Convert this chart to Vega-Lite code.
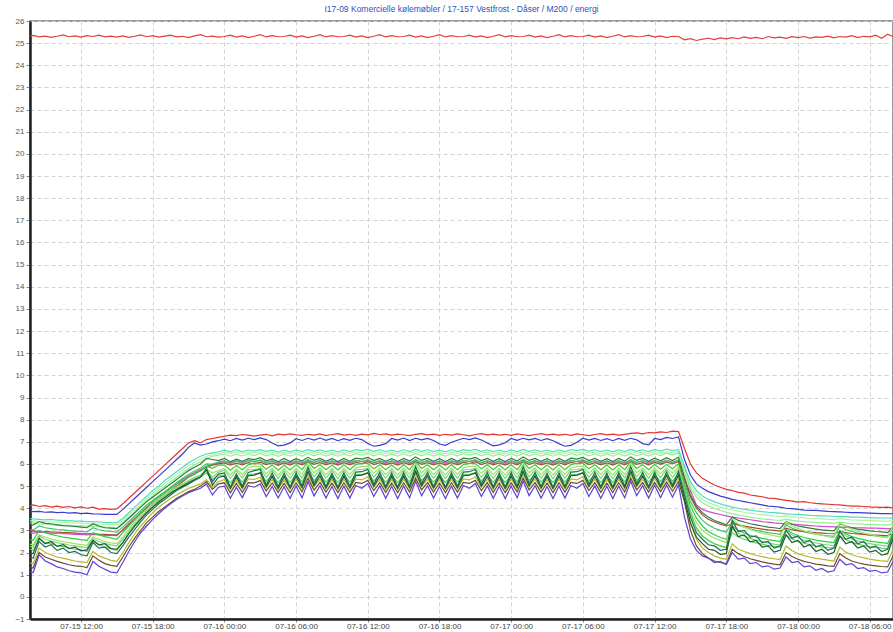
{
  "$schema": "https://vega.github.io/schema/vega-lite/v6.json",
  "autosize": "none",
  "width": 863,
  "height": 598,
  "padding": {"left": 30, "top": 21, "right": 0, "bottom": 13},
  "background": "white",
  "title": {
    "text": "I17-09 Komercielle kølemøbler / 17-157 Vestfrost - Dåser / M200 / energi",
    "font": "Liberation Sans",
    "fontSize": 8.5,
    "fontWeight": "normal",
    "color": "#2f4fbf",
    "offset": 4
  },
  "config": {
    "view": {"stroke": "#777", "strokeWidth": 1.5}
  },
  "data": {
    "values": [
      {"t":"2017-07-15T07:30","top":25.3,"red":4.1,"blue":3.88,"aqua":3.55,"sage":3.42,"mint":3.3,"jade":3.05,"forest":3.2,"brown":2.95,"green":2.6,"lime":2.4,"fern":2.3,"teal":1.8,"pine":2.0,"grass":2.2,"olive":1.55,"umber":1.35,"violet":1.15,"magenta":2.9},
      {"t":"2017-07-15T08:00","top":25.35,"red":4.15,"blue":3.85,"aqua":3.52,"sage":3.44,"mint":3.35,"jade":3.02,"forest":3.25,"brown":2.98,"green":2.55,"lime":2.35,"fern":2.25,"teal":1.75,"pine":1.95,"grass":2.1,"olive":1.5,"umber":1.3,"violet":1.1,"magenta":2.88},
      {"t":"2017-07-15T08:30","top":25.28,"red":4.08,"blue":3.86,"aqua":3.5,"sage":3.4,"mint":3.28,"jade":3.2,"forest":3.4,"brown":2.96,"green":3.0,"lime":2.8,"fern":2.75,"teal":2.5,"pine":2.65,"grass":2.6,"olive":2.2,"umber":2.0,"violet":1.9,"magenta":2.92},
      {"t":"2017-07-15T09:00","top":25.32,"red":4.12,"blue":3.82,"aqua":3.48,"sage":3.4,"mint":3.3,"jade":3.12,"forest":3.32,"brown":2.95,"green":2.9,"lime":2.7,"fern":2.6,"teal":2.25,"pine":2.4,"grass":2.45,"olive":2.0,"umber":1.8,"violet":1.62,"magenta":2.9},
      {"t":"2017-07-15T09:30","top":25.26,"red":4.05,"blue":3.84,"aqua":3.5,"sage":3.38,"mint":3.25,"jade":3.08,"forest":3.3,"brown":2.93,"green":2.82,"lime":2.62,"fern":2.52,"teal":2.35,"pine":2.5,"grass":2.4,"olive":1.9,"umber":1.7,"violet":1.5,"magenta":2.88},
      {"t":"2017-07-15T10:00","top":25.31,"red":4.1,"blue":3.8,"aqua":3.46,"sage":3.37,"mint":3.26,"jade":3.04,"forest":3.25,"brown":2.92,"green":2.76,"lime":2.55,"fern":2.45,"teal":2.1,"pine":2.28,"grass":2.3,"olive":1.8,"umber":1.6,"violet":1.35,"magenta":2.86},
      {"t":"2017-07-15T10:30","top":25.37,"red":4.04,"blue":3.82,"aqua":3.45,"sage":3.36,"mint":3.22,"jade":3.02,"forest":3.22,"brown":2.9,"green":2.7,"lime":2.5,"fern":2.4,"teal":2.2,"pine":2.36,"grass":2.28,"olive":1.75,"umber":1.52,"violet":1.28,"magenta":2.85},
      {"t":"2017-07-15T11:00","top":25.29,"red":4.08,"blue":3.78,"aqua":3.44,"sage":3.35,"mint":3.24,"jade":2.99,"forest":3.2,"brown":2.9,"green":2.66,"lime":2.45,"fern":2.34,"teal":2.0,"pine":2.18,"grass":2.2,"olive":1.68,"umber":1.45,"violet":1.18,"magenta":2.84},
      {"t":"2017-07-15T11:30","top":25.33,"red":4.02,"blue":3.8,"aqua":3.42,"sage":3.33,"mint":3.2,"jade":2.97,"forest":3.18,"brown":2.88,"green":2.62,"lime":2.4,"fern":2.3,"teal":2.05,"pine":2.24,"grass":2.15,"olive":1.62,"umber":1.4,"violet":1.12,"magenta":2.82},
      {"t":"2017-07-15T12:00","top":25.27,"red":4.06,"blue":3.76,"aqua":3.42,"sage":3.33,"mint":3.22,"jade":2.95,"forest":3.15,"brown":2.86,"green":2.58,"lime":2.36,"fern":2.26,"teal":1.9,"pine":2.08,"grass":2.12,"olive":1.58,"umber":1.38,"violet":1.08,"magenta":2.82},
      {"t":"2017-07-15T12:30","top":25.34,"red":4.0,"blue":3.78,"aqua":3.4,"sage":3.31,"mint":3.18,"jade":2.93,"forest":3.12,"brown":2.85,"green":2.55,"lime":2.32,"fern":2.22,"teal":1.85,"pine":2.12,"grass":2.05,"olive":1.55,"umber":1.32,"violet":1.0,"magenta":2.8},
      {"t":"2017-07-15T13:00","top":25.3,"red":4.05,"blue":3.75,"aqua":3.4,"sage":3.3,"mint":3.2,"jade":3.12,"forest":3.3,"brown":2.85,"green":2.9,"lime":2.7,"fern":2.62,"teal":2.45,"pine":2.55,"grass":2.5,"olive":2.05,"umber":1.85,"violet":1.6,"magenta":2.82},
      {"t":"2017-07-15T13:30","top":25.36,"red":3.96,"blue":3.74,"aqua":3.38,"sage":3.28,"mint":3.16,"jade":3.03,"forest":3.2,"brown":2.83,"green":2.8,"lime":2.6,"fern":2.5,"teal":2.2,"pine":2.35,"grass":2.35,"olive":1.85,"umber":1.65,"violet":1.38,"magenta":2.8},
      {"t":"2017-07-15T14:00","top":25.28,"red":3.98,"blue":3.72,"aqua":3.36,"sage":3.27,"mint":3.15,"jade":2.98,"forest":3.12,"brown":2.82,"green":2.72,"lime":2.5,"fern":2.42,"teal":2.25,"pine":2.4,"grass":2.25,"olive":1.75,"umber":1.5,"violet":1.25,"magenta":2.78},
      {"t":"2017-07-15T14:30","top":25.32,"red":3.95,"blue":3.73,"aqua":3.35,"sage":3.26,"mint":3.14,"jade":2.95,"forest":3.1,"brown":2.8,"green":2.66,"lime":2.44,"fern":2.35,"teal":2.0,"pine":2.18,"grass":2.18,"olive":1.65,"umber":1.42,"violet":1.12,"magenta":2.78},
      {"t":"2017-07-15T15:00","top":25.27,"red":3.97,"blue":3.72,"aqua":3.34,"sage":3.25,"mint":3.12,"jade":2.92,"forest":3.08,"brown":2.8,"green":2.6,"lime":2.4,"fern":2.3,"teal":1.95,"pine":2.15,"grass":2.1,"olive":1.6,"umber":1.38,"violet":1.08,"magenta":2.76},
      {"t":"2017-07-15T15:30","top":25.33,"red":4.2,"blue":3.95,"aqua":3.55,"sage":3.45,"mint":3.35,"jade":3.15,"forest":3.3,"brown":3.0,"green":2.9,"lime":2.7,"fern":2.6,"teal":2.3,"pine":2.45,"grass":2.45,"olive":2.0,"umber":1.8,"violet":1.55,"magenta":3.05},
      {"t":"2017-07-15T16:00","top":25.26,"red":4.45,"blue":4.2,"aqua":3.8,"sage":3.7,"mint":3.6,"jade":3.4,"forest":3.55,"brown":3.25,"green":3.2,"lime":3.05,"fern":2.95,"teal":2.7,"pine":2.85,"grass":2.85,"olive":2.45,"umber":2.25,"violet":2.05,"magenta":3.3},
      {"t":"2017-07-15T16:30","top":25.31,"red":4.7,"blue":4.45,"aqua":4.05,"sage":3.95,"mint":3.85,"jade":3.65,"forest":3.8,"brown":3.5,"green":3.5,"lime":3.4,"fern":3.3,"teal":3.05,"pine":3.2,"grass":3.2,"olive":2.85,"umber":2.65,"violet":2.5,"magenta":3.55},
      {"t":"2017-07-15T17:00","top":25.37,"red":4.95,"blue":4.7,"aqua":4.3,"sage":4.2,"mint":4.1,"jade":3.9,"forest":4.05,"brown":3.75,"green":3.8,"lime":3.7,"fern":3.6,"teal":3.4,"pine":3.52,"grass":3.5,"olive":3.2,"umber":3.0,"violet":2.9,"magenta":3.8},
      {"t":"2017-07-15T17:30","top":25.29,"red":5.2,"blue":4.95,"aqua":4.55,"sage":4.45,"mint":4.35,"jade":4.15,"forest":4.3,"brown":4.0,"green":4.05,"lime":3.95,"fern":3.88,"teal":3.7,"pine":3.8,"grass":3.8,"olive":3.5,"umber":3.35,"violet":3.2,"magenta":4.05},
      {"t":"2017-07-15T18:00","top":25.34,"red":5.45,"blue":5.2,"aqua":4.8,"sage":4.68,"mint":4.55,"jade":4.35,"forest":4.5,"brown":4.2,"green":4.3,"lime":4.2,"fern":4.12,"teal":3.95,"pine":4.05,"grass":4.05,"olive":3.8,"umber":3.6,"violet":3.5,"magenta":4.3},
      {"t":"2017-07-15T18:30","top":25.27,"red":5.7,"blue":5.45,"aqua":5.0,"sage":4.9,"mint":4.8,"jade":4.55,"forest":4.7,"brown":4.4,"green":4.5,"lime":4.4,"fern":4.35,"teal":4.2,"pine":4.28,"grass":4.3,"olive":4.05,"umber":3.85,"violet":3.75,"magenta":4.5},
      {"t":"2017-07-15T19:00","top":25.32,"red":5.95,"blue":5.7,"aqua":5.25,"sage":5.12,"mint":5.0,"jade":4.75,"forest":4.9,"brown":4.6,"green":4.7,"lime":4.6,"fern":4.55,"teal":4.4,"pine":4.48,"grass":4.5,"olive":4.25,"umber":4.05,"violet":4.0,"magenta":4.7},
      {"t":"2017-07-15T19:30","top":25.36,"red":6.2,"blue":5.95,"aqua":5.45,"sage":5.33,"mint":5.2,"jade":4.95,"forest":5.1,"brown":4.8,"green":4.9,"lime":4.8,"fern":4.75,"teal":4.6,"pine":4.68,"grass":4.7,"olive":4.45,"umber":4.25,"violet":4.2,"magenta":4.9},
      {"t":"2017-07-15T20:00","top":25.28,"red":6.45,"blue":6.2,"aqua":5.65,"sage":5.53,"mint":5.4,"jade":5.15,"forest":5.3,"brown":5.0,"green":5.1,"lime":4.95,"fern":4.92,"teal":4.8,"pine":4.85,"grass":4.85,"olive":4.6,"umber":4.45,"violet":4.4,"magenta":5.1},
      {"t":"2017-07-15T20:30","top":25.31,"red":6.7,"blue":6.45,"aqua":5.85,"sage":5.73,"mint":5.6,"jade":5.35,"forest":5.5,"brown":5.2,"green":5.25,"lime":5.1,"fern":5.08,"teal":4.95,"pine":5.0,"grass":5.0,"olive":4.75,"umber":4.6,"violet":4.55,"magenta":5.3},
      {"t":"2017-07-15T21:00","top":25.25,"red":6.95,"blue":6.75,"aqua":6.05,"sage":5.92,"mint":5.8,"jade":5.52,"forest":5.7,"brown":5.4,"green":5.4,"lime":5.25,"fern":5.22,"teal":5.1,"pine":5.15,"grass":5.15,"olive":4.9,"umber":4.75,"violet":4.7,"magenta":5.45},
      {"t":"2017-07-15T21:30","top":25.33,"red":7.05,"blue":6.95,"aqua":6.2,"sage":6.08,"mint":5.95,"jade":5.68,"forest":5.85,"brown":5.55,"green":5.55,"lime":5.4,"fern":5.38,"teal":5.25,"pine":5.3,"grass":5.3,"olive":5.0,"umber":4.85,"violet":4.8,"magenta":5.6},
      {"t":"2017-07-15T22:00","top":25.38,"red":6.95,"blue":6.85,"aqua":6.35,"sage":6.22,"mint":6.1,"jade":5.82,"forest":6.0,"brown":5.7,"green":5.7,"lime":5.5,"fern":5.48,"teal":5.4,"pine":5.42,"grass":5.4,"olive":5.1,"umber":5.0,"violet":4.9,"magenta":5.75},
      {"t":"2017-07-15T22:30","top":25.29,"red":7.1,"blue":6.9,"aqua":6.45,"sage":6.35,"mint":6.25,"jade":6.0,"forest":6.25,"brown":5.85,"green":5.9,"lime":5.75,"fern":5.7,"teal":5.8,"pine":5.75,"grass":5.6,"olive":5.3,"umber":5.2,"violet":5.1,"magenta":5.9},
      {"t":"2017-07-15T23:00","top":25.32,"red":7.15,"blue":7.0,"aqua":6.5,"sage":6.42,"mint":6.35,"jade":5.98,"forest":6.2,"brown":5.95,"green":5.8,"lime":5.6,"fern":5.4,"teal":5.2,"pine":5.05,"grass":5.3,"olive":4.95,"umber":4.85,"violet":4.6,"magenta":6.0},
      {"t":"2017-07-15T23:30","top":25.27,"red":7.2,"blue":7.05,"aqua":6.55,"sage":6.48,"mint":6.4,"jade":6.08,"forest":6.15,"brown":6.0,"green":5.95,"lime":5.7,"fern":5.62,"teal":5.55,"pine":5.4,"grass":5.5,"olive":5.2,"umber":5.1,"violet":4.95,"magenta":6.05},
      {"t":"2017-07-16T00:00","top":25.3,"red":7.25,"blue":7.12,"aqua":6.62,"sage":6.52,"mint":6.45,"jade":6.15,"forest":6.25,"brown":6.05,"green":5.95,"lime":5.8,"fern":5.72,"teal":5.6,"pine":5.45,"grass":5.5,"olive":5.3,"umber":5.15,"violet":5.0,"magenta":6.12},
      {"t":"2017-07-16T00:30","top":25.36,"red":7.3,"blue":7.05,"aqua":6.55,"sage":6.47,"mint":6.35,"jade":6.0,"forest":6.1,"brown":5.95,"green":5.72,"lime":5.5,"fern":5.35,"teal":4.95,"pine":4.9,"grass":5.15,"olive":4.85,"umber":4.7,"violet":4.45,"magenta":6.05},
      {"t":"2017-07-16T01:00","top":25.27,"red":7.28,"blue":7.15,"aqua":6.64,"sage":6.53,"mint":6.44,"jade":6.14,"forest":6.22,"brown":6.04,"green":5.93,"lime":5.78,"fern":5.7,"teal":5.55,"pine":5.42,"grass":5.48,"olive":5.28,"umber":5.12,"violet":4.95,"magenta":6.14},
      {"t":"2017-07-16T01:30","top":25.33,"red":7.33,"blue":7.08,"aqua":6.56,"sage":6.48,"mint":6.36,"jade":6.01,"forest":6.12,"brown":5.96,"green":5.74,"lime":5.52,"fern":5.37,"teal":5.0,"pine":4.93,"grass":5.18,"olive":4.88,"umber":4.72,"violet":4.48,"magenta":6.06},
      {"t":"2017-07-16T02:00","top":25.25,"red":7.3,"blue":7.16,"aqua":6.63,"sage":6.52,"mint":6.46,"jade":6.16,"forest":6.24,"brown":6.06,"green":5.96,"lime":5.82,"fern":5.74,"teal":5.62,"pine":5.47,"grass":5.52,"olive":5.32,"umber":5.16,"violet":5.02,"magenta":6.15},
      {"t":"2017-07-16T02:30","top":25.31,"red":7.26,"blue":7.1,"aqua":6.58,"sage":6.5,"mint":6.38,"jade":6.12,"forest":6.2,"brown":6.0,"green":6.05,"lime":5.9,"fern":5.75,"teal":5.7,"pine":5.5,"grass":5.55,"olive":5.3,"umber":5.15,"violet":4.95,"magenta":6.1},
      {"t":"2017-07-16T03:00","top":25.38,"red":7.3,"blue":7.18,"aqua":6.65,"sage":6.54,"mint":6.47,"jade":6.18,"forest":6.28,"brown":6.08,"green":6.0,"lime":5.88,"fern":5.8,"teal":5.75,"pine":5.6,"grass":5.6,"olive":5.4,"umber":5.25,"violet":5.1,"magenta":6.16},
      {"t":"2017-07-16T03:30","top":25.28,"red":7.34,"blue":7.1,"aqua":6.57,"sage":6.48,"mint":6.37,"jade":6.03,"forest":6.14,"brown":5.97,"green":5.76,"lime":5.56,"fern":5.4,"teal":5.05,"pine":4.98,"grass":5.22,"olive":4.92,"umber":4.78,"violet":4.52,"magenta":6.07},
      {"t":"2017-07-16T04:00","top":25.34,"red":7.27,"blue":6.95,"aqua":6.62,"sage":6.52,"mint":6.44,"jade":6.15,"forest":6.23,"brown":6.05,"green":5.95,"lime":5.8,"fern":5.72,"teal":5.6,"pine":5.44,"grass":5.5,"olive":5.3,"umber":5.14,"violet":4.98,"magenta":6.13},
      {"t":"2017-07-16T04:30","top":25.29,"red":7.35,"blue":6.82,"aqua":6.54,"sage":6.46,"mint":6.34,"jade":5.99,"forest":6.1,"brown":5.94,"green":5.72,"lime":5.5,"fern":5.34,"teal":4.98,"pine":4.9,"grass":5.16,"olive":4.86,"umber":4.72,"violet":4.46,"magenta":6.04},
      {"t":"2017-07-16T05:00","top":25.3,"red":7.31,"blue":6.85,"aqua":6.63,"sage":6.52,"mint":6.45,"jade":6.14,"forest":6.25,"brown":6.05,"green":5.94,"lime":5.8,"fern":5.71,"teal":5.58,"pine":5.43,"grass":5.5,"olive":5.28,"umber":5.13,"violet":4.97,"magenta":6.12},
      {"t":"2017-07-16T05:30","top":25.36,"red":7.36,"blue":6.95,"aqua":6.55,"sage":6.47,"mint":6.35,"jade":6.0,"forest":6.11,"brown":5.95,"green":5.73,"lime":5.52,"fern":5.35,"teal":4.96,"pine":4.91,"grass":5.17,"olive":4.87,"umber":4.71,"violet":4.44,"magenta":6.05},
      {"t":"2017-07-16T06:00","top":25.27,"red":7.32,"blue":7.14,"aqua":6.64,"sage":6.53,"mint":6.46,"jade":6.15,"forest":6.24,"brown":6.06,"green":5.96,"lime":5.81,"fern":5.72,"teal":5.6,"pine":5.45,"grass":5.51,"olive":5.31,"umber":5.15,"violet":5.0,"magenta":6.14},
      {"t":"2017-07-16T06:30","top":25.33,"red":7.29,"blue":7.06,"aqua":6.56,"sage":6.48,"mint":6.36,"jade":6.01,"forest":6.13,"brown":5.96,"green":5.74,"lime":5.53,"fern":5.37,"teal":5.0,"pine":4.94,"grass":5.19,"olive":4.89,"umber":4.74,"violet":4.47,"magenta":6.06},
      {"t":"2017-07-16T07:00","top":25.25,"red":7.34,"blue":7.16,"aqua":6.65,"sage":6.54,"mint":6.47,"jade":6.2,"forest":6.3,"brown":6.1,"green":6.1,"lime":5.98,"fern":5.85,"teal":5.85,"pine":5.65,"grass":5.68,"olive":5.5,"umber":5.35,"violet":5.2,"magenta":6.16},
      {"t":"2017-07-16T07:30","top":25.31,"red":7.3,"blue":7.08,"aqua":6.57,"sage":6.49,"mint":6.37,"jade":6.05,"forest":6.16,"brown":5.98,"green":5.8,"lime":5.6,"fern":5.42,"teal":5.12,"pine":5.02,"grass":5.25,"olive":4.98,"umber":4.82,"violet":4.56,"magenta":6.07},
      {"t":"2017-07-16T08:00","top":25.38,"red":7.36,"blue":7.17,"aqua":6.64,"sage":6.53,"mint":6.46,"jade":6.16,"forest":6.25,"brown":6.06,"green":5.96,"lime":5.82,"fern":5.73,"teal":5.62,"pine":5.46,"grass":5.52,"olive":5.32,"umber":5.17,"violet":5.02,"magenta":6.15},
      {"t":"2017-07-16T08:30","top":25.28,"red":7.28,"blue":7.07,"aqua":6.56,"sage":6.47,"mint":6.36,"jade":6.0,"forest":6.12,"brown":5.96,"green":5.74,"lime":5.52,"fern":5.36,"teal":4.98,"pine":4.92,"grass":5.18,"olive":4.88,"umber":4.73,"violet":4.46,"magenta":6.06},
      {"t":"2017-07-16T09:00","top":25.34,"red":7.33,"blue":7.15,"aqua":6.63,"sage":6.52,"mint":6.45,"jade":6.15,"forest":6.24,"brown":6.05,"green":5.95,"lime":5.8,"fern":5.71,"teal":5.58,"pine":5.44,"grass":5.5,"olive":5.3,"umber":5.14,"violet":4.98,"magenta":6.13},
      {"t":"2017-07-16T09:30","top":25.29,"red":7.37,"blue":7.05,"aqua":6.55,"sage":6.46,"mint":6.35,"jade":5.99,"forest":6.11,"brown":5.95,"green":5.73,"lime":5.51,"fern":5.34,"teal":4.95,"pine":4.9,"grass":5.16,"olive":4.86,"umber":4.71,"violet":4.44,"magenta":6.05},
      {"t":"2017-07-16T10:00","top":25.3,"red":7.3,"blue":7.14,"aqua":6.64,"sage":6.53,"mint":6.46,"jade":6.15,"forest":6.25,"brown":6.06,"green":5.96,"lime":5.81,"fern":5.72,"teal":5.6,"pine":5.45,"grass":5.51,"olive":5.31,"umber":5.15,"violet":5.0,"magenta":6.14},
      {"t":"2017-07-16T10:30","top":25.36,"red":7.34,"blue":7.07,"aqua":6.56,"sage":6.48,"mint":6.36,"jade":6.01,"forest":6.12,"brown":5.96,"green":5.74,"lime":5.53,"fern":5.36,"teal":4.99,"pine":4.93,"grass":5.18,"olive":4.88,"umber":4.73,"violet":4.46,"magenta":6.06},
      {"t":"2017-07-16T11:00","top":25.27,"red":7.29,"blue":7.16,"aqua":6.65,"sage":6.54,"mint":6.47,"jade":6.16,"forest":6.26,"brown":6.07,"green":5.97,"lime":5.83,"fern":5.74,"teal":5.63,"pine":5.47,"grass":5.53,"olive":5.33,"umber":5.17,"violet":5.03,"magenta":6.15},
      {"t":"2017-07-16T11:30","top":25.33,"red":7.35,"blue":7.1,"aqua":6.6,"sage":6.5,"mint":6.4,"jade":6.12,"forest":6.22,"brown":6.02,"green":6.02,"lime":5.88,"fern":5.75,"teal":5.65,"pine":5.5,"grass":5.52,"olive":5.28,"umber":5.12,"violet":4.9,"magenta":6.1},
      {"t":"2017-07-16T12:00","top":25.25,"red":7.31,"blue":6.92,"aqua":6.66,"sage":6.55,"mint":6.48,"jade":6.19,"forest":6.3,"brown":6.1,"green":6.02,"lime":5.9,"fern":5.8,"teal":5.75,"pine":5.6,"grass":5.6,"olive":5.42,"umber":5.26,"violet":5.12,"magenta":6.16},
      {"t":"2017-07-16T12:30","top":25.31,"red":7.38,"blue":6.8,"aqua":6.57,"sage":6.49,"mint":6.37,"jade":6.04,"forest":6.15,"brown":5.97,"green":5.78,"lime":5.58,"fern":5.4,"teal":5.08,"pine":5.0,"grass":5.23,"olive":4.95,"umber":4.8,"violet":4.53,"magenta":6.07},
      {"t":"2017-07-16T13:00","top":25.38,"red":7.33,"blue":6.84,"aqua":6.64,"sage":6.53,"mint":6.46,"jade":6.15,"forest":6.25,"brown":6.06,"green":5.96,"lime":5.82,"fern":5.72,"teal":5.62,"pine":5.45,"grass":5.52,"olive":5.32,"umber":5.16,"violet":5.01,"magenta":6.14},
      {"t":"2017-07-16T13:30","top":25.28,"red":7.36,"blue":6.92,"aqua":6.56,"sage":6.47,"mint":6.36,"jade":6.0,"forest":6.12,"brown":5.96,"green":5.74,"lime":5.52,"fern":5.35,"teal":4.97,"pine":4.92,"grass":5.17,"olive":4.87,"umber":4.72,"violet":4.45,"magenta":6.06},
      {"t":"2017-07-16T14:00","top":25.34,"red":7.3,"blue":7.15,"aqua":6.63,"sage":6.52,"mint":6.45,"jade":6.15,"forest":6.24,"brown":6.05,"green":5.95,"lime":5.8,"fern":5.71,"teal":5.59,"pine":5.44,"grass":5.5,"olive":5.3,"umber":5.14,"violet":4.99,"magenta":6.13},
      {"t":"2017-07-16T14:30","top":25.29,"red":7.35,"blue":7.08,"aqua":6.55,"sage":6.46,"mint":6.35,"jade":5.99,"forest":6.11,"brown":5.95,"green":5.73,"lime":5.51,"fern":5.34,"teal":4.96,"pine":4.9,"grass":5.16,"olive":4.86,"umber":4.71,"violet":4.44,"magenta":6.05},
      {"t":"2017-07-16T15:00","top":25.3,"red":7.32,"blue":7.17,"aqua":6.64,"sage":6.53,"mint":6.46,"jade":6.15,"forest":6.25,"brown":6.06,"green":5.96,"lime":5.81,"fern":5.72,"teal":5.61,"pine":5.45,"grass":5.51,"olive":5.31,"umber":5.15,"violet":5.0,"magenta":6.14},
      {"t":"2017-07-16T15:30","top":25.36,"red":7.28,"blue":7.06,"aqua":6.56,"sage":6.48,"mint":6.36,"jade":6.01,"forest":6.13,"brown":5.96,"green":5.74,"lime":5.53,"fern":5.37,"teal":5.0,"pine":4.94,"grass":5.19,"olive":4.89,"umber":4.74,"violet":4.47,"magenta":6.06},
      {"t":"2017-07-16T16:00","top":25.27,"red":7.34,"blue":7.16,"aqua":6.66,"sage":6.55,"mint":6.48,"jade":6.2,"forest":6.32,"brown":6.1,"green":6.1,"lime":6.0,"fern":5.86,"teal":5.88,"pine":5.66,"grass":5.7,"olive":5.52,"umber":5.36,"violet":5.22,"magenta":6.16},
      {"t":"2017-07-16T16:30","top":25.33,"red":7.37,"blue":7.09,"aqua":6.57,"sage":6.49,"mint":6.37,"jade":6.05,"forest":6.16,"brown":5.98,"green":5.8,"lime":5.6,"fern":5.42,"teal":5.12,"pine":5.02,"grass":5.26,"olive":4.98,"umber":4.83,"violet":4.57,"magenta":6.07},
      {"t":"2017-07-16T17:00","top":25.25,"red":7.31,"blue":7.15,"aqua":6.64,"sage":6.53,"mint":6.46,"jade":6.16,"forest":6.25,"brown":6.06,"green":5.96,"lime":5.82,"fern":5.73,"teal":5.62,"pine":5.46,"grass":5.52,"olive":5.32,"umber":5.16,"violet":5.02,"magenta":6.14},
      {"t":"2017-07-16T17:30","top":25.31,"red":7.35,"blue":7.06,"aqua":6.56,"sage":6.47,"mint":6.36,"jade":6.0,"forest":6.12,"brown":5.96,"green":5.74,"lime":5.52,"fern":5.36,"teal":4.98,"pine":4.92,"grass":5.18,"olive":4.88,"umber":4.73,"violet":4.46,"magenta":6.06},
      {"t":"2017-07-16T18:00","top":25.38,"red":7.29,"blue":6.9,"aqua":6.63,"sage":6.52,"mint":6.45,"jade":6.15,"forest":6.24,"brown":6.05,"green":5.95,"lime":5.8,"fern":5.71,"teal":5.58,"pine":5.44,"grass":5.5,"olive":5.3,"umber":5.14,"violet":4.98,"magenta":6.13},
      {"t":"2017-07-16T18:30","top":25.28,"red":7.34,"blue":6.84,"aqua":6.55,"sage":6.46,"mint":6.35,"jade":5.99,"forest":6.11,"brown":5.95,"green":5.73,"lime":5.51,"fern":5.34,"teal":4.95,"pine":4.9,"grass":5.16,"olive":4.86,"umber":4.71,"violet":4.44,"magenta":6.05},
      {"t":"2017-07-16T19:00","top":25.34,"red":7.3,"blue":6.98,"aqua":6.64,"sage":6.53,"mint":6.46,"jade":6.15,"forest":6.25,"brown":6.06,"green":5.96,"lime":5.81,"fern":5.72,"teal":5.6,"pine":5.45,"grass":5.51,"olive":5.31,"umber":5.15,"violet":5.0,"magenta":6.14},
      {"t":"2017-07-16T19:30","top":25.29,"red":7.36,"blue":7.07,"aqua":6.56,"sage":6.48,"mint":6.36,"jade":6.01,"forest":6.12,"brown":5.96,"green":5.74,"lime":5.53,"fern":5.36,"teal":4.99,"pine":4.93,"grass":5.18,"olive":4.88,"umber":4.73,"violet":4.46,"magenta":6.06},
      {"t":"2017-07-16T20:00","top":25.3,"red":7.32,"blue":7.16,"aqua":6.65,"sage":6.54,"mint":6.47,"jade":6.16,"forest":6.26,"brown":6.07,"green":5.97,"lime":5.83,"fern":5.74,"teal":5.63,"pine":5.47,"grass":5.53,"olive":5.33,"umber":5.17,"violet":5.03,"magenta":6.15},
      {"t":"2017-07-16T20:30","top":25.36,"red":7.27,"blue":7.1,"aqua":6.6,"sage":6.5,"mint":6.4,"jade":6.12,"forest":6.22,"brown":6.02,"green":6.02,"lime":5.88,"fern":5.75,"teal":5.65,"pine":5.5,"grass":5.52,"olive":5.28,"umber":5.12,"violet":4.9,"magenta":6.1},
      {"t":"2017-07-16T21:00","top":25.27,"red":7.33,"blue":7.18,"aqua":6.66,"sage":6.55,"mint":6.48,"jade":6.19,"forest":6.3,"brown":6.1,"green":6.02,"lime":5.9,"fern":5.8,"teal":5.75,"pine":5.6,"grass":5.6,"olive":5.42,"umber":5.26,"violet":5.12,"magenta":6.16},
      {"t":"2017-07-16T21:30","top":25.33,"red":7.37,"blue":7.08,"aqua":6.57,"sage":6.49,"mint":6.37,"jade":6.04,"forest":6.15,"brown":5.97,"green":5.78,"lime":5.58,"fern":5.4,"teal":5.08,"pine":5.0,"grass":5.23,"olive":4.95,"umber":4.8,"violet":4.53,"magenta":6.07},
      {"t":"2017-07-16T22:00","top":25.25,"red":7.31,"blue":6.95,"aqua":6.64,"sage":6.53,"mint":6.46,"jade":6.15,"forest":6.25,"brown":6.06,"green":5.96,"lime":5.82,"fern":5.72,"teal":5.62,"pine":5.45,"grass":5.52,"olive":5.32,"umber":5.16,"violet":5.01,"magenta":6.14},
      {"t":"2017-07-16T22:30","top":25.31,"red":7.35,"blue":6.82,"aqua":6.56,"sage":6.47,"mint":6.36,"jade":6.0,"forest":6.12,"brown":5.96,"green":5.74,"lime":5.52,"fern":5.35,"teal":4.97,"pine":4.92,"grass":5.17,"olive":4.87,"umber":4.72,"violet":4.45,"magenta":6.06},
      {"t":"2017-07-16T23:00","top":25.38,"red":7.3,"blue":6.86,"aqua":6.63,"sage":6.52,"mint":6.45,"jade":6.15,"forest":6.24,"brown":6.05,"green":5.95,"lime":5.8,"fern":5.71,"teal":5.59,"pine":5.44,"grass":5.5,"olive":5.3,"umber":5.14,"violet":4.99,"magenta":6.13},
      {"t":"2017-07-16T23:30","top":25.28,"red":7.34,"blue":6.96,"aqua":6.55,"sage":6.46,"mint":6.35,"jade":5.99,"forest":6.11,"brown":5.95,"green":5.73,"lime":5.51,"fern":5.34,"teal":4.96,"pine":4.9,"grass":5.16,"olive":4.86,"umber":4.71,"violet":4.44,"magenta":6.05},
      {"t":"2017-07-17T00:00","top":25.34,"red":7.29,"blue":7.15,"aqua":6.64,"sage":6.53,"mint":6.46,"jade":6.15,"forest":6.25,"brown":6.06,"green":5.96,"lime":5.81,"fern":5.72,"teal":5.61,"pine":5.45,"grass":5.51,"olive":5.31,"umber":5.15,"violet":5.0,"magenta":6.14},
      {"t":"2017-07-17T00:30","top":25.29,"red":7.36,"blue":7.07,"aqua":6.56,"sage":6.48,"mint":6.36,"jade":6.01,"forest":6.13,"brown":5.96,"green":5.74,"lime":5.53,"fern":5.37,"teal":5.0,"pine":4.94,"grass":5.19,"olive":4.89,"umber":4.74,"violet":4.47,"magenta":6.06},
      {"t":"2017-07-17T01:00","top":25.3,"red":7.32,"blue":7.16,"aqua":6.66,"sage":6.55,"mint":6.48,"jade":6.2,"forest":6.32,"brown":6.1,"green":6.1,"lime":6.0,"fern":5.86,"teal":5.88,"pine":5.66,"grass":5.7,"olive":5.52,"umber":5.36,"violet":5.22,"magenta":6.16},
      {"t":"2017-07-17T01:30","top":25.36,"red":7.28,"blue":7.09,"aqua":6.57,"sage":6.49,"mint":6.37,"jade":6.05,"forest":6.16,"brown":5.98,"green":5.8,"lime":5.6,"fern":5.42,"teal":5.12,"pine":5.02,"grass":5.26,"olive":4.98,"umber":4.83,"violet":4.57,"magenta":6.07},
      {"t":"2017-07-17T02:00","top":25.27,"red":7.33,"blue":7.15,"aqua":6.64,"sage":6.53,"mint":6.46,"jade":6.16,"forest":6.25,"brown":6.06,"green":5.96,"lime":5.82,"fern":5.73,"teal":5.62,"pine":5.46,"grass":5.52,"olive":5.32,"umber":5.16,"violet":5.02,"magenta":6.14},
      {"t":"2017-07-17T02:30","top":25.33,"red":7.37,"blue":7.06,"aqua":6.56,"sage":6.47,"mint":6.36,"jade":6.0,"forest":6.12,"brown":5.96,"green":5.74,"lime":5.52,"fern":5.36,"teal":4.98,"pine":4.92,"grass":5.18,"olive":4.88,"umber":4.73,"violet":4.46,"magenta":6.06},
      {"t":"2017-07-17T03:00","top":25.25,"red":7.31,"blue":7.14,"aqua":6.63,"sage":6.52,"mint":6.45,"jade":6.15,"forest":6.24,"brown":6.05,"green":5.95,"lime":5.8,"fern":5.71,"teal":5.58,"pine":5.44,"grass":5.5,"olive":5.3,"umber":5.14,"violet":4.98,"magenta":6.13},
      {"t":"2017-07-17T03:30","top":25.31,"red":7.35,"blue":7.05,"aqua":6.55,"sage":6.46,"mint":6.35,"jade":5.99,"forest":6.11,"brown":5.95,"green":5.73,"lime":5.51,"fern":5.34,"teal":4.95,"pine":4.9,"grass":5.16,"olive":4.86,"umber":4.71,"violet":4.44,"magenta":6.05},
      {"t":"2017-07-17T04:00","top":25.38,"red":7.3,"blue":6.92,"aqua":6.64,"sage":6.53,"mint":6.46,"jade":6.15,"forest":6.25,"brown":6.06,"green":5.96,"lime":5.81,"fern":5.72,"teal":5.6,"pine":5.45,"grass":5.51,"olive":5.31,"umber":5.15,"violet":5.0,"magenta":6.14},
      {"t":"2017-07-17T04:30","top":25.28,"red":7.34,"blue":6.8,"aqua":6.56,"sage":6.48,"mint":6.36,"jade":6.01,"forest":6.12,"brown":5.96,"green":5.74,"lime":5.53,"fern":5.36,"teal":4.99,"pine":4.93,"grass":5.18,"olive":4.88,"umber":4.73,"violet":4.46,"magenta":6.06},
      {"t":"2017-07-17T05:00","top":25.34,"red":7.29,"blue":6.84,"aqua":6.65,"sage":6.54,"mint":6.47,"jade":6.16,"forest":6.26,"brown":6.07,"green":5.97,"lime":5.83,"fern":5.74,"teal":5.63,"pine":5.47,"grass":5.53,"olive":5.33,"umber":5.17,"violet":5.03,"magenta":6.15},
      {"t":"2017-07-17T05:30","top":25.29,"red":7.36,"blue":6.98,"aqua":6.6,"sage":6.5,"mint":6.4,"jade":6.12,"forest":6.22,"brown":6.02,"green":6.02,"lime":5.88,"fern":5.75,"teal":5.65,"pine":5.5,"grass":5.52,"olive":5.28,"umber":5.12,"violet":4.9,"magenta":6.1},
      {"t":"2017-07-17T06:00","top":25.3,"red":7.32,"blue":7.16,"aqua":6.66,"sage":6.55,"mint":6.48,"jade":6.19,"forest":6.3,"brown":6.1,"green":6.02,"lime":5.9,"fern":5.8,"teal":5.75,"pine":5.6,"grass":5.6,"olive":5.42,"umber":5.26,"violet":5.12,"magenta":6.16},
      {"t":"2017-07-17T06:30","top":25.36,"red":7.28,"blue":7.08,"aqua":6.57,"sage":6.49,"mint":6.37,"jade":6.04,"forest":6.15,"brown":5.97,"green":5.78,"lime":5.58,"fern":5.4,"teal":5.08,"pine":5.0,"grass":5.23,"olive":4.95,"umber":4.8,"violet":4.53,"magenta":6.07},
      {"t":"2017-07-17T07:00","top":25.27,"red":7.33,"blue":7.15,"aqua":6.64,"sage":6.53,"mint":6.46,"jade":6.15,"forest":6.25,"brown":6.06,"green":5.96,"lime":5.82,"fern":5.72,"teal":5.62,"pine":5.45,"grass":5.52,"olive":5.32,"umber":5.16,"violet":5.01,"magenta":6.14},
      {"t":"2017-07-17T07:30","top":25.33,"red":7.37,"blue":7.06,"aqua":6.56,"sage":6.47,"mint":6.36,"jade":6.0,"forest":6.12,"brown":5.96,"green":5.74,"lime":5.52,"fern":5.35,"teal":4.97,"pine":4.92,"grass":5.17,"olive":4.87,"umber":4.72,"violet":4.45,"magenta":6.06},
      {"t":"2017-07-17T08:00","top":25.25,"red":7.31,"blue":7.14,"aqua":6.63,"sage":6.52,"mint":6.45,"jade":6.15,"forest":6.24,"brown":6.05,"green":5.95,"lime":5.8,"fern":5.71,"teal":5.59,"pine":5.44,"grass":5.5,"olive":5.3,"umber":5.14,"violet":4.99,"magenta":6.13},
      {"t":"2017-07-17T08:30","top":25.31,"red":7.35,"blue":7.05,"aqua":6.55,"sage":6.46,"mint":6.35,"jade":5.99,"forest":6.11,"brown":5.95,"green":5.73,"lime":5.51,"fern":5.34,"teal":4.96,"pine":4.9,"grass":5.16,"olive":4.86,"umber":4.71,"violet":4.44,"magenta":6.05},
      {"t":"2017-07-17T09:00","top":25.38,"red":7.3,"blue":7.15,"aqua":6.64,"sage":6.53,"mint":6.46,"jade":6.15,"forest":6.25,"brown":6.06,"green":5.96,"lime":5.81,"fern":5.72,"teal":5.61,"pine":5.45,"grass":5.51,"olive":5.31,"umber":5.15,"violet":5.0,"magenta":6.14},
      {"t":"2017-07-17T09:30","top":25.28,"red":7.34,"blue":7.07,"aqua":6.56,"sage":6.48,"mint":6.36,"jade":6.01,"forest":6.13,"brown":5.96,"green":5.74,"lime":5.53,"fern":5.37,"teal":5.0,"pine":4.94,"grass":5.19,"olive":4.89,"umber":4.74,"violet":4.47,"magenta":6.06},
      {"t":"2017-07-17T10:00","top":25.34,"red":7.38,"blue":7.16,"aqua":6.66,"sage":6.55,"mint":6.48,"jade":6.2,"forest":6.32,"brown":6.1,"green":6.1,"lime":6.0,"fern":5.86,"teal":5.88,"pine":5.66,"grass":5.7,"olive":5.52,"umber":5.36,"violet":5.22,"magenta":6.16},
      {"t":"2017-07-17T10:30","top":25.29,"red":7.4,"blue":7.09,"aqua":6.57,"sage":6.49,"mint":6.37,"jade":6.05,"forest":6.16,"brown":5.98,"green":5.8,"lime":5.6,"fern":5.42,"teal":5.12,"pine":5.02,"grass":5.26,"olive":4.98,"umber":4.83,"violet":4.57,"magenta":6.07},
      {"t":"2017-07-17T11:00","top":25.3,"red":7.36,"blue":6.92,"aqua":6.64,"sage":6.53,"mint":6.46,"jade":6.16,"forest":6.25,"brown":6.06,"green":5.96,"lime":5.82,"fern":5.73,"teal":5.62,"pine":5.46,"grass":5.52,"olive":5.32,"umber":5.16,"violet":5.02,"magenta":6.14},
      {"t":"2017-07-17T11:30","top":25.36,"red":7.42,"blue":6.86,"aqua":6.56,"sage":6.47,"mint":6.36,"jade":6.0,"forest":6.12,"brown":5.96,"green":5.74,"lime":5.52,"fern":5.36,"teal":4.98,"pine":4.92,"grass":5.18,"olive":4.88,"umber":4.73,"violet":4.46,"magenta":6.06},
      {"t":"2017-07-17T12:00","top":25.27,"red":7.4,"blue":7.15,"aqua":6.65,"sage":6.54,"mint":6.47,"jade":6.16,"forest":6.26,"brown":6.07,"green":5.97,"lime":5.83,"fern":5.73,"teal":5.63,"pine":5.47,"grass":5.53,"olive":5.33,"umber":5.17,"violet":5.03,"magenta":6.15},
      {"t":"2017-07-17T12:30","top":25.33,"red":7.45,"blue":7.1,"aqua":6.58,"sage":6.49,"mint":6.38,"jade":6.02,"forest":6.14,"brown":5.98,"green":5.76,"lime":5.55,"fern":5.38,"teal":5.02,"pine":4.95,"grass":5.2,"olive":4.9,"umber":4.75,"violet":4.48,"magenta":6.07},
      {"t":"2017-07-17T13:00","top":25.25,"red":7.42,"blue":7.2,"aqua":6.67,"sage":6.55,"mint":6.49,"jade":6.17,"forest":6.28,"brown":6.08,"green":5.98,"lime":5.84,"fern":5.75,"teal":5.64,"pine":5.48,"grass":5.54,"olive":5.34,"umber":5.18,"violet":5.04,"magenta":6.16},
      {"t":"2017-07-17T13:30","top":25.31,"red":7.48,"blue":7.15,"aqua":6.6,"sage":6.5,"mint":6.4,"jade":6.03,"forest":6.15,"brown":6.0,"green":5.78,"lime":5.58,"fern":5.4,"teal":5.05,"pine":4.97,"grass":5.22,"olive":4.92,"umber":4.77,"violet":4.5,"magenta":6.08},
      {"t":"2017-07-17T14:00","top":25.3,"red":7.46,"blue":7.22,"aqua":6.66,"sage":6.56,"mint":6.5,"jade":6.18,"forest":6.3,"brown":6.1,"green":6.0,"lime":5.86,"fern":5.76,"teal":5.66,"pine":5.5,"grass":5.56,"olive":5.36,"umber":5.2,"violet":5.05,"magenta":6.16},
      {"t":"2017-07-17T14:30","top":25.15,"red":6.7,"blue":6.2,"aqua":5.9,"sage":5.75,"mint":5.6,"jade":5.15,"forest":5.4,"brown":5.3,"green":5.0,"lime":4.8,"fern":4.7,"teal":4.6,"pine":4.4,"grass":4.9,"olive":4.5,"umber":4.3,"violet":3.6,"magenta":5.9},
      {"t":"2017-07-17T15:00","top":25.2,"red":6.0,"blue":5.5,"aqua":5.2,"sage":5.05,"mint":4.9,"jade":4.3,"forest":4.6,"brown":4.5,"green":4.1,"lime":3.9,"fern":3.7,"teal":3.6,"pine":3.35,"grass":3.8,"olive":3.3,"umber":3.0,"violet":2.6,"magenta":4.8},
      {"t":"2017-07-17T15:30","top":25.12,"red":5.6,"blue":5.1,"aqua":4.8,"sage":4.65,"mint":4.5,"jade":3.8,"forest":4.1,"brown":4.0,"green":3.55,"lime":3.35,"fern":3.1,"teal":2.9,"pine":2.7,"grass":3.1,"olive":2.6,"umber":2.3,"violet":2.1,"magenta":4.15},
      {"t":"2017-07-17T16:00","top":25.18,"red":5.35,"blue":4.9,"aqua":4.55,"sage":4.4,"mint":4.25,"jade":3.45,"forest":3.8,"brown":3.7,"green":3.2,"lime":3.0,"fern":2.75,"teal":2.6,"pine":2.4,"grass":2.75,"olive":2.2,"umber":1.95,"violet":1.85,"magenta":3.95},
      {"t":"2017-07-17T16:30","top":25.22,"red":5.2,"blue":4.75,"aqua":4.4,"sage":4.25,"mint":4.1,"jade":3.25,"forest":3.6,"brown":3.5,"green":2.95,"lime":2.8,"fern":2.55,"teal":2.35,"pine":2.15,"grass":2.55,"olive":2.0,"umber":1.75,"violet":1.75,"magenta":3.85},
      {"t":"2017-07-17T17:00","top":25.16,"red":5.05,"blue":4.65,"aqua":4.3,"sage":4.15,"mint":4.0,"jade":3.1,"forest":3.45,"brown":3.38,"green":2.8,"lime":2.65,"fern":2.4,"teal":2.3,"pine":2.1,"grass":2.4,"olive":1.85,"umber":1.62,"violet":1.55,"magenta":3.78},
      {"t":"2017-07-17T17:30","top":25.24,"red":4.95,"blue":4.55,"aqua":4.2,"sage":4.05,"mint":3.9,"jade":3.0,"forest":3.35,"brown":3.28,"green":2.68,"lime":2.55,"fern":2.3,"teal":2.1,"pine":1.92,"grass":2.3,"olive":1.75,"umber":1.55,"violet":1.6,"magenta":3.72},
      {"t":"2017-07-17T18:00","top":25.19,"red":4.85,"blue":4.48,"aqua":4.12,"sage":3.97,"mint":3.82,"jade":2.92,"forest":3.25,"brown":3.2,"green":2.6,"lime":2.45,"fern":2.22,"teal":2.15,"pine":1.95,"grass":2.22,"olive":1.7,"umber":1.5,"violet":1.45,"magenta":3.66},
      {"t":"2017-07-17T18:30","top":25.25,"red":4.8,"blue":4.4,"aqua":4.05,"sage":3.92,"mint":3.75,"jade":3.4,"forest":3.6,"brown":3.3,"green":3.2,"lime":3.5,"fern":3.1,"teal":3.45,"pine":3.2,"grass":2.9,"olive":2.4,"umber":2.15,"violet":2.0,"magenta":3.6},
      {"t":"2017-07-17T19:00","top":25.2,"red":4.72,"blue":4.35,"aqua":4.0,"sage":3.87,"mint":3.7,"jade":3.25,"forest":3.45,"brown":3.25,"green":3.0,"lime":3.3,"fern":2.88,"teal":2.95,"pine":2.72,"grass":2.7,"olive":2.15,"umber":1.95,"violet":1.7,"magenta":3.56},
      {"t":"2017-07-17T19:30","top":25.28,"red":4.68,"blue":4.3,"aqua":3.95,"sage":3.82,"mint":3.65,"jade":3.15,"forest":3.38,"brown":3.2,"green":2.88,"lime":3.15,"fern":2.74,"teal":3.0,"pine":2.8,"grass":2.6,"olive":2.05,"umber":1.82,"violet":1.75,"magenta":3.52},
      {"t":"2017-07-17T20:00","top":25.22,"red":4.6,"blue":4.25,"aqua":3.92,"sage":3.78,"mint":3.6,"jade":3.07,"forest":3.3,"brown":3.15,"green":2.78,"lime":3.05,"fern":2.64,"teal":2.7,"pine":2.48,"grass":2.5,"olive":1.95,"umber":1.72,"violet":1.5,"magenta":3.48},
      {"t":"2017-07-17T20:30","top":25.26,"red":4.56,"blue":4.2,"aqua":3.88,"sage":3.74,"mint":3.56,"jade":3.0,"forest":3.25,"brown":3.1,"green":2.7,"lime":2.95,"fern":2.56,"teal":2.75,"pine":2.55,"grass":2.44,"olive":1.88,"umber":1.65,"violet":1.55,"magenta":3.44},
      {"t":"2017-07-17T21:00","top":25.2,"red":4.52,"blue":4.15,"aqua":3.85,"sage":3.71,"mint":3.52,"jade":2.95,"forest":3.2,"brown":3.06,"green":2.64,"lime":2.88,"fern":2.49,"teal":2.45,"pine":2.25,"grass":2.38,"olive":1.82,"umber":1.58,"violet":1.35,"magenta":3.4},
      {"t":"2017-07-17T21:30","top":25.3,"red":4.46,"blue":4.1,"aqua":3.82,"sage":3.68,"mint":3.5,"jade":2.9,"forest":3.15,"brown":3.02,"green":2.58,"lime":2.82,"fern":2.43,"teal":2.5,"pine":2.3,"grass":2.32,"olive":1.76,"umber":1.52,"violet":1.4,"magenta":3.37},
      {"t":"2017-07-17T22:00","top":25.24,"red":4.45,"blue":4.08,"aqua":3.8,"sage":3.65,"mint":3.47,"jade":2.86,"forest":3.12,"brown":3.0,"green":2.54,"lime":2.76,"fern":2.38,"teal":2.2,"pine":2.02,"grass":2.28,"olive":1.72,"umber":1.48,"violet":1.25,"magenta":3.34},
      {"t":"2017-07-17T22:30","top":25.27,"red":4.4,"blue":4.05,"aqua":3.78,"sage":3.62,"mint":3.45,"jade":2.82,"forest":3.08,"brown":2.97,"green":2.5,"lime":2.7,"fern":2.34,"teal":2.3,"pine":2.1,"grass":2.25,"olive":1.68,"umber":1.45,"violet":1.3,"magenta":3.32},
      {"t":"2017-07-17T23:00","top":25.22,"red":4.36,"blue":4.0,"aqua":3.75,"sage":3.66,"mint":3.5,"jade":3.25,"forest":3.4,"brown":3.1,"green":3.05,"lime":3.4,"fern":3.0,"teal":3.0,"pine":2.8,"grass":2.8,"olive":2.3,"umber":2.0,"violet":1.8,"magenta":3.3},
      {"t":"2017-07-17T23:30","top":25.29,"red":4.32,"blue":3.98,"aqua":3.73,"sage":3.62,"mint":3.45,"jade":3.1,"forest":3.28,"brown":3.02,"green":2.88,"lime":3.2,"fern":2.8,"teal":2.65,"pine":2.45,"grass":2.62,"olive":2.08,"umber":1.82,"violet":1.55,"magenta":3.28},
      {"t":"2017-07-18T00:00","top":25.25,"red":4.28,"blue":3.95,"aqua":3.72,"sage":3.59,"mint":3.42,"jade":3.0,"forest":3.2,"brown":2.98,"green":2.76,"lime":3.08,"fern":2.66,"teal":2.75,"pine":2.55,"grass":2.5,"olive":1.95,"umber":1.7,"violet":1.6,"magenta":3.26},
      {"t":"2017-07-18T00:30","top":25.3,"red":4.3,"blue":3.92,"aqua":3.7,"sage":3.57,"mint":3.4,"jade":2.93,"forest":3.15,"brown":2.95,"green":2.68,"lime":2.98,"fern":2.56,"teal":2.45,"pine":2.25,"grass":2.42,"olive":1.86,"umber":1.6,"violet":1.35,"magenta":3.24},
      {"t":"2017-07-18T01:00","top":25.23,"red":4.25,"blue":3.9,"aqua":3.68,"sage":3.55,"mint":3.38,"jade":2.88,"forest":3.1,"brown":2.92,"green":2.62,"lime":2.9,"fern":2.49,"teal":2.55,"pine":2.35,"grass":2.36,"olive":1.8,"umber":1.54,"violet":1.4,"magenta":3.22},
      {"t":"2017-07-18T01:30","top":25.28,"red":4.22,"blue":3.9,"aqua":3.67,"sage":3.53,"mint":3.36,"jade":2.83,"forest":3.06,"brown":2.9,"green":2.56,"lime":2.84,"fern":2.43,"teal":2.25,"pine":2.05,"grass":2.3,"olive":1.74,"umber":1.48,"violet":1.2,"magenta":3.2},
      {"t":"2017-07-18T02:00","top":25.26,"red":4.2,"blue":3.88,"aqua":3.66,"sage":3.52,"mint":3.35,"jade":2.79,"forest":3.02,"brown":2.88,"green":2.52,"lime":2.78,"fern":2.38,"teal":2.35,"pine":2.15,"grass":2.26,"olive":1.7,"umber":1.44,"violet":1.28,"magenta":3.18},
      {"t":"2017-07-18T02:30","top":25.32,"red":4.18,"blue":3.86,"aqua":3.65,"sage":3.5,"mint":3.34,"jade":2.76,"forest":3.0,"brown":2.86,"green":2.48,"lime":2.72,"fern":2.34,"teal":2.1,"pine":1.92,"grass":2.22,"olive":1.66,"umber":1.4,"violet":1.12,"magenta":3.17},
      {"t":"2017-07-18T03:00","top":25.24,"red":4.16,"blue":3.85,"aqua":3.64,"sage":3.49,"mint":3.32,"jade":2.73,"forest":2.98,"brown":2.85,"green":2.45,"lime":2.68,"fern":2.3,"teal":2.2,"pine":2.0,"grass":2.2,"olive":1.62,"umber":1.38,"violet":1.18,"magenta":3.16},
      {"t":"2017-07-18T03:30","top":25.3,"red":4.15,"blue":3.84,"aqua":3.62,"sage":3.53,"mint":3.38,"jade":3.18,"forest":3.3,"brown":2.95,"green":3.0,"lime":3.35,"fern":2.95,"teal":2.95,"pine":2.75,"grass":2.75,"olive":2.25,"umber":1.95,"violet":1.7,"magenta":3.15},
      {"t":"2017-07-18T04:00","top":25.27,"red":4.12,"blue":3.82,"aqua":3.62,"sage":3.5,"mint":3.34,"jade":3.04,"forest":3.2,"brown":2.9,"green":2.85,"lime":3.18,"fern":2.76,"teal":2.6,"pine":2.4,"grass":2.58,"olive":2.02,"umber":1.75,"violet":1.45,"magenta":3.14},
      {"t":"2017-07-18T04:30","top":25.34,"red":4.1,"blue":3.8,"aqua":3.6,"sage":3.47,"mint":3.3,"jade":2.95,"forest":3.12,"brown":2.86,"green":2.72,"lime":3.05,"fern":2.62,"teal":2.7,"pine":2.5,"grass":2.46,"olive":1.9,"umber":1.62,"violet":1.5,"magenta":3.13},
      {"t":"2017-07-18T05:00","top":25.25,"red":4.1,"blue":3.8,"aqua":3.6,"sage":3.46,"mint":3.3,"jade":2.88,"forest":3.06,"brown":2.84,"green":2.64,"lime":2.96,"fern":2.53,"teal":2.4,"pine":2.2,"grass":2.38,"olive":1.82,"umber":1.54,"violet":1.28,"magenta":3.12},
      {"t":"2017-07-18T05:30","top":25.31,"red":4.08,"blue":3.79,"aqua":3.59,"sage":3.45,"mint":3.28,"jade":2.83,"forest":3.02,"brown":2.82,"green":2.58,"lime":2.88,"fern":2.46,"teal":2.5,"pine":2.3,"grass":2.32,"olive":1.76,"umber":1.48,"violet":1.32,"magenta":3.11},
      {"t":"2017-07-18T06:00","top":25.28,"red":4.06,"blue":3.78,"aqua":3.58,"sage":3.44,"mint":3.27,"jade":2.79,"forest":2.98,"brown":2.8,"green":2.52,"lime":2.82,"fern":2.4,"teal":2.2,"pine":2.02,"grass":2.27,"olive":1.7,"umber":1.43,"violet":1.15,"magenta":3.1},
      {"t":"2017-07-18T06:30","top":25.36,"red":4.05,"blue":3.77,"aqua":3.57,"sage":3.43,"mint":3.26,"jade":2.75,"forest":2.95,"brown":2.79,"green":2.48,"lime":2.76,"fern":2.36,"teal":2.3,"pine":2.1,"grass":2.23,"olive":1.66,"umber":1.4,"violet":1.2,"magenta":3.1},
      {"t":"2017-07-18T07:00","top":25.22,"red":4.04,"blue":3.76,"aqua":3.56,"sage":3.42,"mint":3.25,"jade":2.72,"forest":2.93,"brown":2.78,"green":2.45,"lime":2.72,"fern":2.32,"teal":2.05,"pine":1.88,"grass":2.2,"olive":1.62,"umber":1.37,"violet":1.08,"magenta":3.09},
      {"t":"2017-07-18T07:30","top":25.4,"red":4.05,"blue":3.76,"aqua":3.56,"sage":3.41,"mint":3.25,"jade":2.7,"forest":2.9,"brown":2.77,"green":2.42,"lime":2.68,"fern":2.29,"teal":2.15,"pine":1.95,"grass":2.18,"olive":1.6,"umber":1.35,"violet":1.12,"magenta":3.08},
      {"t":"2017-07-18T08:00","top":25.28,"red":4.0,"blue":3.75,"aqua":3.55,"sage":3.45,"mint":3.3,"jade":3.15,"forest":3.2,"brown":2.85,"green":2.95,"lime":3.3,"fern":2.9,"teal":2.9,"pine":2.7,"grass":2.7,"olive":2.2,"umber":1.9,"violet":1.65,"magenta":3.08}
    ]
  },
  "transform": [
    {
      "fold": ["top", "magenta", "sage", "mint", "jade", "forest", "brown", "green", "lime", "fern", "grass", "olive", "umber", "pine", "teal", "violet", "aqua", "blue", "red"],
      "as": ["series", "value"]
    }
  ],
  "mark": {"type": "line", "strokeWidth": 1.2, "clip": true},
  "encoding": {
    "x": {
      "field": "t",
      "type": "temporal",
      "scale": {
        "domain": [
          {"year": 2017, "month": 7, "date": 15, "hours": 7, "minutes": 44},
          {"year": 2017, "month": 7, "date": 18, "hours": 7, "minutes": 57}
        ],
        "nice": false
      },
      "axis": {
        "title": null,
        "format": "%m-%d %H:%M",
        "values": [
          {"year": 2017, "month": 7, "date": 15, "hours": 12},
          {"year": 2017, "month": 7, "date": 15, "hours": 18},
          {"year": 2017, "month": 7, "date": 16, "hours": 0},
          {"year": 2017, "month": 7, "date": 16, "hours": 6},
          {"year": 2017, "month": 7, "date": 16, "hours": 12},
          {"year": 2017, "month": 7, "date": 16, "hours": 18},
          {"year": 2017, "month": 7, "date": 17, "hours": 0},
          {"year": 2017, "month": 7, "date": 17, "hours": 6},
          {"year": 2017, "month": 7, "date": 17, "hours": 12},
          {"year": 2017, "month": 7, "date": 17, "hours": 18},
          {"year": 2017, "month": 7, "date": 18, "hours": 0},
          {"year": 2017, "month": 7, "date": 18, "hours": 6}
        ],
        "labelFont": "Liberation Sans",
        "labelFontSize": 8,
        "labelColor": "#444",
        "labelPadding": 0,
        "labelFlush": false,
        "tickSize": 3,
        "tickColor": "#888",
        "domainColor": "#222",
        "domainWidth": 2.5,
        "grid": true,
        "gridColor": "#d2d2d2",
        "gridDash": [4, 3],
        "gridWidth": 1
      }
    },
    "y": {
      "field": "value",
      "type": "quantitative",
      "scale": {"domain": [-1, 26], "nice": false, "zero": false},
      "axis": {
        "title": null,
        "values": [-1, 0, 1, 2, 3, 4, 5, 6, 7, 8, 9, 10, 11, 12, 13, 14, 15, 16, 17, 18, 19, 20, 21, 22, 23, 24, 25, 26],
        "labelFont": "Liberation Sans",
        "labelFontSize": 8,
        "labelColor": "#555",
        "labelPadding": 2,
        "tickSize": 4,
        "tickColor": "#888",
        "domainColor": "#222",
        "domainWidth": 2.5,
        "grid": true,
        "gridColor": "#d2d2d2",
        "gridDash": [4, 3],
        "gridWidth": 1
      }
    },
    "color": {
      "field": "series",
      "type": "nominal",
      "legend": null,
      "scale": {
        "domain": ["top", "magenta", "sage", "mint", "jade", "forest", "brown", "green", "lime", "fern", "grass", "olive", "umber", "pine", "teal", "violet", "aqua", "blue", "red"],
        "range": ["#e0403a", "#d24ad2", "#b4f2a4", "#8ff08f", "#3cc46c", "#2e7d3a", "#a0522d", "#2fcf3f", "#a2e35e", "#78d878", "#5bd45b", "#b7b82c", "#6d4c2f", "#1e5a2c", "#1f6e5c", "#5a44d6", "#52dcc0", "#3a3ad0", "#e23430"]
      }
    }
  }
}
